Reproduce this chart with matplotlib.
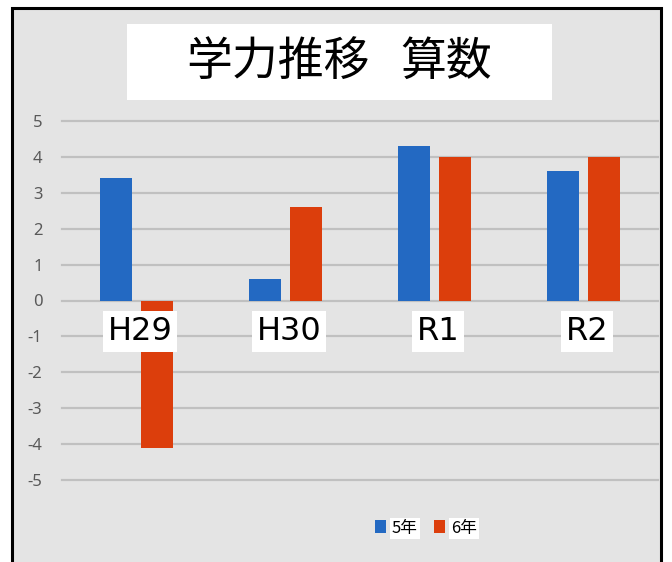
import matplotlib.pyplot as plt
from matplotlib.patches import Rectangle
import numpy as np

plt.rcParams['font.family'] = ['DejaVu Sans', 'Noto Sans CJK JP']
plt.rcParams['axes.unicode_minus'] = False

years = ['H29', 'H30', 'R1', 'R2']
grade5 = [3.4, 0.6, 4.3, 3.6]
grade6 = [-4.1, 2.6, 4.0, 4.0]
series_names = ['5年', '6年']
title_left = '学力推移'
title_right = '算数'

blue = '#2369c2'
orange = '#dc3e0c'

fig = plt.figure(figsize=(6.72, 5.62), dpi=100)
fig.patch.set_facecolor('white')

# grey panel with black frame
W, H = 672, 562
fig.patches.append(Rectangle((12 / W, -0.01), 649 / W, 1 - 8 / H + 0.01,
                             transform=fig.transFigure, facecolor='#e4e4e4',
                             edgecolor='black', lw=2.2, zorder=-2))

# title box
fig.patches.append(Rectangle((127 / W, 1 - 100 / H), 425 / W, 76 / H,
                             transform=fig.transFigure, facecolor='white',
                             edgecolor='none', zorder=-1))
cjk = ['Noto Sans CJK JP', 'DejaVu Sans']
fig.text(186 / W, 1 - 62 / H, title_left, ha='left', va='center', fontsize=33,
         family=cjk, zorder=2)
fig.text(492 / W, 1 - 62 / H, title_right, ha='right', va='center', fontsize=33,
         family=cjk, zorder=2)

ax = fig.add_axes([62 / W, 1 - 480 / H, 596 / W, 359 / H])
ax.set_facecolor('none')
x = np.arange(len(years))
w = 0.22
ax.bar(x - 0.137, grade5, w, color=blue, label=series_names[0], zorder=3)
ax.bar(x + 0.137, grade6, w, color=orange, label=series_names[1], zorder=3)

ax.set_xlim(-0.5, 3.5)
ax.set_ylim(-5, 5)
ax.set_yticks(range(-5, 6))
ax.yaxis.grid(True, color='#c0c0c0', lw=1.6, zorder=1)
ax.set_axisbelow(True)
for s in ax.spines.values():
    s.set_visible(False)
ax.set_xticks([])
ax.tick_params(axis='y', length=0, pad=14, labelsize=12, labelcolor='#595959')
for lab in ax.get_yticklabels():
    lab.set_family(['Noto Sans', 'DejaVu Sans'])
for gl in ax.get_ygridlines():
    gl.set_clip_on(False)

for i, name in enumerate(years):
    ax.text(i + 0.025, -0.87, name, ha='center', va='center', fontsize=23,
            zorder=5, bbox=dict(facecolor='white', edgecolor='none', pad=3.5))

leg = ax.legend(loc='center', bbox_to_anchor=(426 / W, 1 - 528 / H),
                bbox_transform=fig.transFigure, ncol=2, frameon=False,
                handlelength=0.65, handleheight=0.8, handletextpad=0.35,
                columnspacing=1.0, prop={'family': ['Noto Sans CJK JP'], 'size': 12})
for t in leg.get_texts():
    t.set_bbox(dict(facecolor='white', edgecolor='none', pad=1.5))

fig.savefig('out.png', dpi=100)
